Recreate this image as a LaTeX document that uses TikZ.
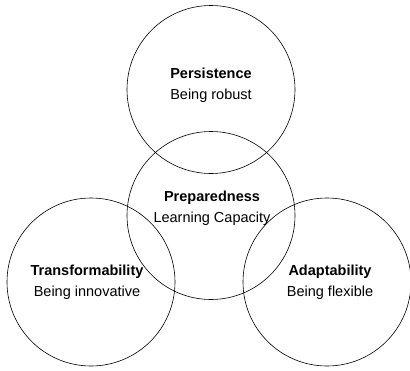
\documentclass[tikz,border=0pt]{standalone}
\usepackage{fontspec}
\setmainfont{Liberation Sans}
\begin{document}
\begin{tikzpicture}[x=1pt, y=-1pt,
        ring/.style={circle, draw, line width=0.6pt, minimum size=168pt, inner sep=0pt},
        caption/.style={align=center, font=\fontsize{14.5}{21}\selectfont}]
        \useasboundingbox (0,0) rectangle (410,370);

        \node [ring] (pers) at (211,89.5) {};
        \node [ring] (prep) at (211,215.5) {};
        \node [ring] (trans) at (91,282) {};
        \node [ring] (adapt) at (327,282) {};

        \node [caption] (perstext) at ([yshift=4pt]pers) {\textbf{Persistence}\\Being robust};
        \node [caption] (preptext) at ([xshift=1pt, yshift=7pt]prep) {\textbf{Preparedness}\\Learning Capacity};
        \node [caption] (transtext) at ([xshift=-4pt]trans) {\textbf{Transformability}\\Being innovative};
        \node [caption] (adapttext) at ([xshift=3pt]adapt) {\textbf{Adaptability}\\Being flexible};
    \end{tikzpicture}
\end{document}
